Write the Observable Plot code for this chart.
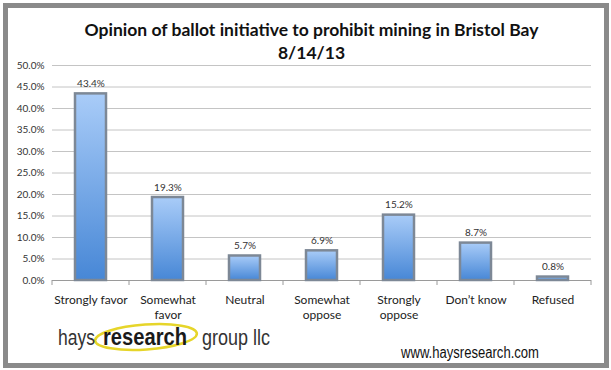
<!DOCTYPE html>
<html><head><meta charset="utf-8">
<script src="https://cdn.jsdelivr.net/npm/d3@7"></script>
<script src="https://cdn.jsdelivr.net/npm/@observablehq/plot@0.6"></script>
<style>
body{margin:0;background:#fff;}
#wrap{position:relative;width:611px;height:370px;overflow:hidden;font-family:Lato,"Open Sans",sans-serif;background:#fff;}
#frame{position:absolute;left:3px;top:3px;width:596px;height:355px;border:5px solid #8a8a8a;}
#title{position:absolute;left:6px;top:18px;width:611px;text-align:center;font-weight:bold;font-size:17.5px;line-height:23px;color:#111;}
#chart{position:absolute;left:0;top:0;}
#deco{position:absolute;left:0;top:0;}
</style></head><body>
<div id="wrap">
<div id="frame"></div>
<div id="title">Opinion of ballot initiative to prohibit mining in Bristol Bay<br>8/14/13</div>
<div id="chart"></div>
<svg id="deco" width="611" height="370" font-family="'Liberation Sans', Arial, sans-serif">
  <ellipse cx="146" cy="337" rx="51" ry="12.5" transform="rotate(-4 146 337)" fill="none" stroke="#e6d52a" stroke-width="2.5"/>
  <text x="58" y="345" font-size="22" fill="#333" textLength="37" lengthAdjust="spacingAndGlyphs">hays</text>
  <text x="103" y="345" font-size="24" font-weight="bold" fill="#1a1a1a" textLength="84" lengthAdjust="spacingAndGlyphs">research</text>
  <text x="202" y="345" font-size="22" fill="#333" textLength="68" lengthAdjust="spacingAndGlyphs">group llc</text>
  <text x="401" y="358" font-size="16" fill="#111" textLength="138" lengthAdjust="spacingAndGlyphs">www.haysresearch.com</text>
</svg>
</div>
<script>
const categories = ["Strongly favor","Somewhat favor","Neutral","Somewhat oppose","Strongly oppose","Don’t know","Refused"];
const labels = ["Strongly favor","Somewhat\nfavor","Neutral","Somewhat\noppose","Strongly\noppose","Don’t know","Refused"];
const values = [43.4,19.3,5.7,6.9,15.2,8.7,0.8];
const yTicks = [0,5,10,15,20,25,30,35,40,45,50];

const data = categories.map((c,i)=>({category:c, value:values[i]}));

const plot = Plot.plot({
  width:611, height:330, marginTop:65, marginBottom:50, marginLeft:52, marginRight:20,
  style:{fontFamily:"Lato, 'Open Sans', sans-serif", background:"transparent", overflow:"visible", color:"#333"},
  x:{domain:categories, paddingInner:0.6, paddingOuter:0.3, label:null},
  y:{domain:[0,50], label:null},
  marks:[
    Plot.gridY(yTicks,{stroke:"#c4c4c4", strokeOpacity:1}),
    Plot.axisY(yTicks,{tickSize:0, tickPadding:8, tickFormat:d=>d.toFixed(1)+"%", fontSize:10, fill:"#333", label:null}),
    Plot.axisX({tickSize:0, tickPadding:12, tickFormat:d=>labels[categories.indexOf(d)], fontSize:12, lineHeight:1.3, fill:"#222", label:null}),
    Plot.ruleY([0],{stroke:"#9a9a9a"}),
    Plot.barY(data,{x:"category", y:"value", fill:"url(#barGrad)", stroke:"#7d8896", strokeWidth:2.5}),
    Plot.text(data,{x:"category", y:"value", text:d=>d.value.toFixed(1)+"%", dy:-10, fontSize:10, fill:"#333"})
  ]
});

const svg = d3.select(plot);
svg.insert("defs",":first-child").html('<linearGradient id="barGrad" x1="0" y1="0" x2="0" y2="1"><stop offset="0" stop-color="#a9ccf8"/><stop offset="1" stop-color="#4787d6"/></linearGradient>');

const sx = plot.scale("x"), sy = plot.scale("y");
const y0 = sy.apply(0);
const bounds = categories.map(c => sx.apply(c) + sx.bandwidth/2 - sx.step/2);
bounds.push(sx.apply(categories[categories.length-1]) + sx.bandwidth/2 + sx.step/2);
const g = svg.append("g").attr("stroke","#9a9a9a");
bounds.forEach(b => g.append("line").attr("x1",b).attr("x2",b).attr("y1",y0).attr("y2",y0+5));

document.getElementById("chart").appendChild(plot);
</script>
</body></html>
